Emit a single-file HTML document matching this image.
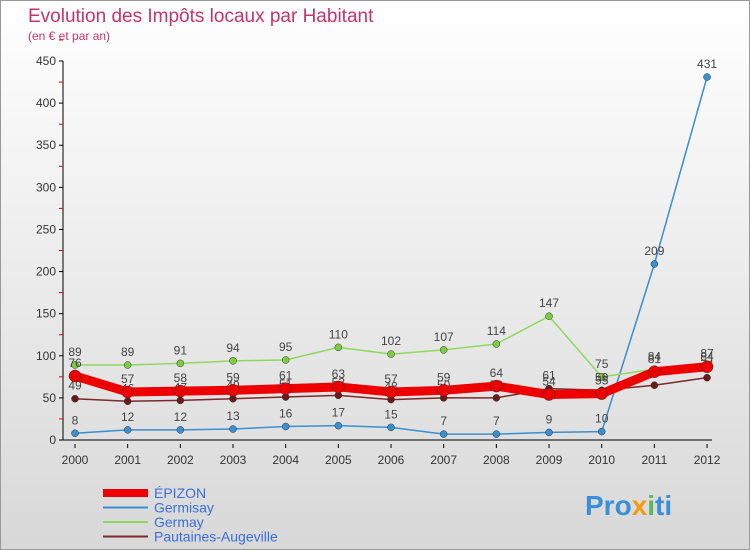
<!DOCTYPE html>
<html><head><meta charset="utf-8"><style>
body{margin:0;width:750px;height:550px;overflow:hidden;font-family:"Liberation Sans",sans-serif}
#wrap{position:relative;width:748px;height:548px;border:1px solid #999;background:linear-gradient(#ffffff,#d8d8d8);}
</style></head><body>
<div id="wrap">
<svg id="c" width="750" height="550" style="position:absolute;left:-1px;top:-1px">
<text x="28" y="22" font-size="19" fill="#c8336e">Evolution des Impôts locaux par Habitant</text>
<text x="28" y="40" font-size="12" fill="#c8336e">(en € et par an)</text>
<text x="585" y="515" font-size="28" font-weight="bold" fill="#3a8fd8">Pro<tspan fill="#f39c12">x</tspan><tspan fill="#5cb85c">i</tspan>ti</text>
</svg>
</div>
<script>
const years=[2000,2001,2002,2003,2004,2005,2006,2007,2008,2009,2010,2011,2012];
const yTicks=[0,50,100,150,200,250,300,350,400,450];
const epizon=[76,57,58,59,61,63,57,59,64,54,55,81,87];
const germisay=[8,12,12,13,16,17,15,7,7,9,10,209,431];
const germay=[89,89,91,94,95,110,102,107,114,147,75,84,84];
const pautaines=[49,46,47,49,51,53,48,50,50,61,59,65,74];
const svg=document.getElementById('c');const NS='http://www.w3.org/2000/svg';
const X=i=>75+i*52.67, Y=v=>440-v*0.8422;
function el(t,a,p){const e=document.createElementNS(NS,t);for(const k in a)e.setAttribute(k,a[k]);(p||svg).appendChild(e);return e;}
let ax=el('path',{d:'M63 61V440H712',stroke:'#000',fill:'none'});


yTicks.forEach(v=>{let t=el('text',{x:56,y:Y(v)+4,'font-size':12,'text-anchor':'end',fill:'#333'});t.textContent=v;


el('line',{x1:59,x2:63,y1:Y(v),y2:Y(v),stroke:'#000'});
el('line',{x1:59,x2:63,y1:Y(v+25),y2:Y(v+25),stroke:'#e00'});});
years.forEach((y,i)=>{let t=el('text',{x:X(i),y:464,'font-size':12,'text-anchor':'middle',fill:'#333'});t.textContent=y;


el('line',{x1:X(i),x2:X(i),y1:444,y2:448,stroke:'#000'});});
function series(d,col,w,r,fill,name){
 const g=el('g',{});
 
 
 el('polyline',{points:d.map((v,i)=>X(i)+','+Y(v)).join(' '),fill:'none',stroke:col,'stroke-width':w,'stroke-linejoin':'round'},g);
 d.forEach((v,i)=>{let c=el('circle',{cx:X(i),cy:Y(v),r:r,fill:fill,stroke:'#333','stroke-width':0.5},g);
 
 
 let t=el('text',{x:X(i),y:Y(v)-9,'font-size':12,'text-anchor':'middle',fill:'#444'},g);t.textContent=v;
 
 });
}
series(germisay,'#3a8fd0',1.5,3.5,'#3a8fd0','germisay');
series(germay,'#8fd860',1.5,3.5,'#7ccc40','germay');
series(pautaines,'#7a2a2a',1.5,3.5,'#6a1a1a','pautaines');
series(epizon,'#ee0000',9,6,'#ee0000','epizon');
const leg=[['ÉPIZON','#ee0000',8],['Germisay','#3a8fd0',2],['Germay','#8fd860',2],['Pautaines-Augeville','#7a2a2a',2]];
leg.forEach((l,i)=>{const g=el('g',{});
 
 
 el('line',{x1:103,x2:148,y1:493+i*14.5,y2:493+i*14.5,stroke:l[1],'stroke-width':l[2]},g);
 let t=el('text',{x:154,y:498+i*14.5,'font-size':14,fill:'#3a6fd8'},g);t.textContent=l[0];});
</script>
</body></html>
